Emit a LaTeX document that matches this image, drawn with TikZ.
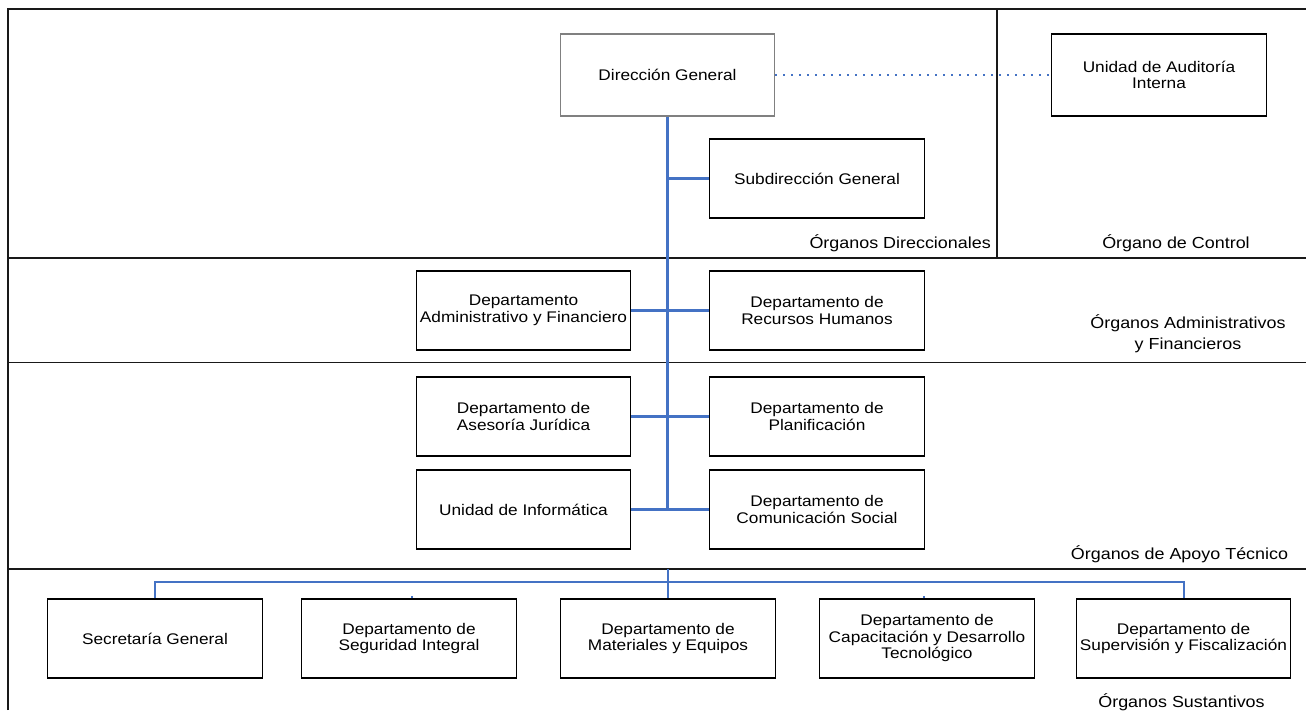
\documentclass[tikz,border=0pt]{standalone}
\usepackage{fontspec}
\setmainfont{Liberation Sans}[FakeStretch=1.12]
\definecolor{linkblue}{HTML}{4472C4}
\definecolor{boxgray}{HTML}{808080}
\tikzset{
  orgbox/.style={draw=black, line width=1.2pt, minimum width=214.5pt, minimum height=79pt,
    inner sep=0pt, align=center, font=\fontsize{15.4}{16.5}\selectfont},
  framel/.style={draw=black!90, line width=1.3pt},
  link/.style={draw=linkblue, line width=2.5pt},
  buslink/.style={draw=linkblue, line width=2pt},
  seclabel/.style={inner sep=0pt, align=center, font=\fontsize{16}{20.7}\selectfont},
}
\begin{document}
\begin{tikzpicture}[x=1pt, y=-1pt]
\useasboundingbox (0,0) rectangle (1306,710);
% frame
\draw[framel] (8,710) -- (8,9) -- (1306,9);
\draw[framel] (8,258) -- (1306,258);
\draw[framel] (8,362.5) -- (1306,362.5);
\draw[framel] (8,569) -- (1306,569);
\draw[framel] (997,9) -- (997,258);
% boxes
\node[orgbox, draw=boxgray, minimum height=82pt] (dg) at (667.5,75) {Dirección General};
\node[orgbox, minimum height=82pt] (aud) at (1159,75) {Unidad de Auditoría\\Interna};
\node[orgbox] (sub) at (817,178.5) {Subdirección General};
\node[orgbox] (adm) at (523.5,310.5) {Departamento\\Administrativo y Financiero};
\node[orgbox] (rrhh) at (817,310.5) {Departamento de\\Recursos Humanos};
\node[orgbox] (jur) at (523.5,416.5) {Departamento de\\Asesoría Jurídica};
\node[orgbox] (plan) at (817,416.5) {Departamento de\\Planificación};
\node[orgbox] (inf) at (523.5,509.5) {Unidad de Informática};
\node[orgbox] (com) at (817,509.5) {Departamento de\\Comunicación Social};
\node[orgbox] (sec) at (155,638.5) {Secretaría General};
\node[orgbox] (seg) at (409,638.5) {Departamento de\\Seguridad Integral};
\node[orgbox] (mat) at (668,638.5) {Departamento de\\Materiales y Equipos};
\node[orgbox] (cap) at (927,638.5) {Departamento de\\Capacitación y Desarrollo\\Tecnológico};
\node[orgbox] (sup) at (1183.5,638.5) {Departamento de\\Supervisión y Fiscalización};
% labels
\node[seclabel, anchor=east] (l1) at (991,243) {Órganos Direccionales};
\node[seclabel] (l2) at (1176,243) {Órgano de Control};
\node[seclabel] (l3) at (1188,333.5) {Órganos Administrativos\\y Financieros};
\node[seclabel] (l4) at (1179.5,554) {Órganos de Apoyo Técnico};
\node[seclabel] (l5) at (1181.5,702) {Órganos Sustantivos};
% connectors
\draw[linkblue, line width=1.8pt, dash pattern=on 1.8pt off 6.2pt] (dg.east) -- (aud.west);
\draw[link] (dg.south) -- (dg.south |- inf.east);
\draw[link] (dg.south |- sub.west) -- (sub.west);
\draw[link] (adm.east) -- (rrhh.west);
\draw[link] (jur.east) -- (plan.west);
\draw[link] (inf.east) -- (com.west);
\coordinate (bustop) at (668,569);
\coordinate (bus) at (668,582);
\draw[buslink] (bustop) -- (mat.north);
\draw[buslink] (sec.north) |- (bus) -| (sup.north);
\draw[buslink] ([xshift=3pt]seg.north) -- ++(0,-2);
\draw[buslink] ([xshift=-3pt]cap.north) -- ++(0,-2);
\end{tikzpicture}
\end{document}
